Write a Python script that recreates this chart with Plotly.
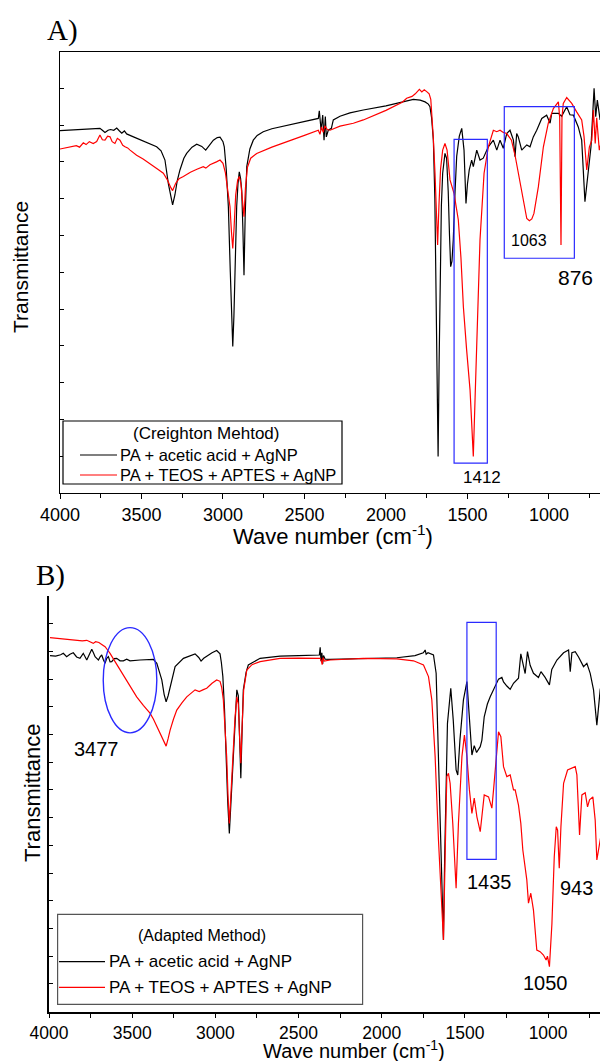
import plotly.graph_objects as go

# ---------------------------------------------------------
# Data (x = wave number cm-1, y = transmittance, arb. units)
# ---------------------------------------------------------

# A) Creighton method
a_black_wn = [4000, 3950, 3900, 3850, 3800, 3770, 3755, 3740, 3724, 3705, 3690, 3670, 3652, 3635, 3621,
              3605, 3591, 3560, 3500, 3450, 3407, 3380, 3356, 3335, 3320, 3309, 3295, 3280, 3264, 3240,
              3223, 3190, 3161, 3130, 3106, 3080, 3059, 3035, 3018, 3000, 2992, 2980, 2967, 2955, 2945,
              2940, 2933, 2925, 2916, 2908, 2900, 2892, 2885, 2878, 2871, 2864, 2854, 2835, 2814, 2790,
              2753, 2700, 2600, 2500, 2430, 2415, 2409, 2398, 2388, 2380, 2372, 2366, 2354, 2335, 2323,
              2300, 2282, 2221, 2139, 2000, 1900, 1832, 1790, 1760, 1740, 1730, 1720, 1709, 1700, 1693,
              1686, 1680, 1674, 1668, 1660, 1652, 1638, 1628, 1618, 1610, 1603, 1595, 1587, 1576, 1566,
              1550, 1535, 1521, 1509, 1500, 1489, 1474, 1464, 1443, 1423, 1403, 1392, 1372, 1341, 1320,
              1300, 1280, 1259, 1239, 1218, 1208, 1198, 1188, 1167, 1136, 1116, 1096, 1075, 1044, 1014,
              993, 983, 942, 922, 891, 871, 850, 820, 799, 779, 758, 742, 723, 713, 703, 686, 676, 656]
a_black_t = [9.85, 9.86, 9.87, 9.88, 9.89, 9.90, 9.91, 9.86, 9.80, 9.86, 9.88, 9.86, 9.92, 9.84, 9.78,
             9.84, 9.76, 9.70, 9.58, 9.48, 9.41, 9.30, 9.05, 8.40, 8.00, 7.83, 8.10, 8.50, 8.78, 9.10,
             9.23, 9.40, 9.48, 9.42, 9.32, 9.48, 9.59, 9.66, 9.67, 9.55, 9.41, 8.80, 7.78, 6.00, 4.60,
             3.98, 4.80, 6.50, 7.78, 8.40, 8.73, 8.55, 8.23, 7.20, 5.92, 7.50, 8.87, 9.35, 9.59, 9.72,
             9.82, 9.90, 10.00, 10.10, 10.16, 10.18, 10.39, 9.86, 10.27, 9.59, 10.23, 9.68, 9.86, 9.91, 10.14,
             10.21, 10.24, 10.33, 10.41, 10.52, 10.62, 10.70, 10.68, 10.63, 10.57, 10.50, 10.20, 9.59, 8.00, 5.98,
             3.50, 0.99, 3.50, 5.98, 7.80, 8.69, 9.23, 9.10, 8.20, 7.00, 6.15, 6.30, 6.88, 8.20, 9.15,
             9.70, 9.91, 9.32, 7.87, 8.40, 8.78, 9.05, 8.87, 9.32, 9.05, 9.10, 9.23, 9.41, 9.59, 9.32,
             9.59, 9.37, 9.77, 9.86, 9.59, 9.14, 9.77, 9.68, 9.32, 9.46, 9.41, 9.68, 9.86, 10.18, 10.27,
             10.05, 10.32, 10.32, 10.24, 10.50, 10.28, 10.27, 9.95, 9.59, 7.92, 8.87, 9.41, 11.00, 10.23, 10.68,
             10.14, 10.32, 9.95]

a_red_wn = [4000, 3960, 3918, 3900, 3880, 3857, 3840, 3820, 3796, 3775, 3755, 3740, 3724, 3708, 3693,
            3680, 3663, 3648, 3632, 3615, 3601, 3585, 3570, 3530, 3490, 3448, 3400, 3366, 3340, 3320,
            3309, 3290, 3270, 3243, 3200, 3160, 3121, 3105, 3080, 3040, 3018, 3000, 2985, 2970, 2957,
            2948, 2940, 2932, 2922, 2910, 2900, 2890, 2880, 2871, 2862, 2850, 2830, 2793, 2700, 2600,
            2500, 2415, 2405, 2395, 2385, 2375, 2360, 2343, 2282, 2200, 2139, 2000, 1900, 1873, 1840,
            1820, 1800, 1795, 1780, 1765, 1750, 1735, 1725, 1719, 1710, 1699, 1690, 1683, 1675, 1665,
            1652, 1638, 1625, 1607, 1582, 1556, 1540, 1525, 1505, 1484, 1474, 1464, 1453, 1443, 1423,
            1398, 1372, 1341, 1320, 1300, 1280, 1259, 1230, 1208, 1188, 1161, 1136, 1120, 1105, 1092,
            1065, 1034, 1004, 973, 942, 934, 926, 920, 912, 891, 860, 830, 799, 785, 768,
            752, 737, 727, 716, 707, 691, 676, 656]
a_red_t = [9.35, 9.38, 9.41, 9.44, 9.40, 9.52, 9.47, 9.55, 9.50, 9.55, 9.73, 9.60, 9.59, 9.70, 9.68,
           9.55, 9.50, 9.64, 9.59, 9.45, 9.41, 9.38, 9.32, 9.18, 9.08, 8.96, 8.80, 8.69, 8.50, 8.30,
           8.22, 8.42, 8.54, 8.60, 8.72, 8.80, 8.87, 8.83, 8.92, 9.00, 9.05, 8.96, 8.70, 8.20, 7.78,
           7.10, 6.65, 7.20, 8.10, 8.50, 8.60, 8.40, 7.90, 7.51, 8.30, 8.85, 9.10, 9.23, 9.40, 9.55,
           9.72, 9.86, 9.75, 9.95, 9.80, 9.98, 9.88, 9.86, 9.97, 10.05, 10.14, 10.40, 10.62, 10.73, 10.78,
           10.85, 10.95, 10.97, 10.90, 10.96, 10.91, 10.85, 10.70, 10.32, 9.70, 8.69, 7.50, 6.74, 7.80, 8.80,
           9.32, 9.50, 9.32, 8.51, 8.14, 7.42, 6.40, 5.06, 3.89, 2.80, 1.90, 0.99, 2.60, 4.16, 6.88,
           8.69, 9.41, 9.86, 9.82, 9.86, 9.80, 9.77, 9.59, 9.18, 8.69, 7.96, 7.46, 7.40, 7.45, 7.60,
           8.32, 9.41, 10.05, 10.45, 10.63, 10.20, 6.74, 10.20, 10.59, 10.75, 10.59, 10.36, 10.14, 9.70, 8.78,
           9.40, 9.59, 10.41, 9.50, 10.20, 9.32, 9.59, 9.68]

# B) Adapted method
b_black_wn = [3994, 3960, 3930, 3914, 3894, 3874, 3854, 3834, 3814, 3794, 3773, 3760, 3743, 3733, 3723,
              3713, 3703, 3693, 3683, 3673, 3663, 3653, 3643, 3633, 3623, 3608, 3593, 3573, 3553, 3533,
              3513, 3453, 3373, 3352, 3322, 3308, 3296, 3284, 3272, 3257, 3242, 3192, 3150, 3122, 3100,
              3086, 3070, 3052, 3020, 2992, 2972, 2964, 2955, 2945, 2936, 2926, 2916, 2905, 2895, 2882,
              2871, 2862, 2855, 2847, 2840, 2832, 2815, 2802, 2731, 2611, 2500, 2400, 2375, 2370, 2365,
              2360, 2355, 2350, 2340, 2310, 2200, 2110, 1909, 1800, 1769, 1750, 1739, 1733, 1722, 1710,
              1689, 1673, 1659, 1643, 1636, 1629, 1622, 1605, 1585, 1570, 1553, 1543, 1530, 1509, 1488,
              1475, 1458, 1444, 1430, 1408, 1398, 1384, 1365, 1348, 1330, 1312, 1298, 1278, 1268, 1248,
              1228, 1208, 1178, 1164, 1152, 1138, 1124, 1108, 1088, 1058, 1043, 1018, 992, 978, 947,
              907, 877, 867, 857, 837, 817, 787, 767, 747, 727, 707, 687, 667, 655, 647, 639]
b_black_t = [12.85, 12.83, 12.88, 12.93, 12.81, 12.90, 12.95, 12.80, 12.75, 12.93, 12.69, 12.85, 13.08, 12.95, 12.81,
             12.75, 12.69, 12.80, 12.87, 12.70, 12.57, 12.75, 12.81, 12.62, 12.63, 12.74, 12.75, 12.66, 12.66, 12.72,
             12.66, 12.69, 12.71, 12.57, 11.97, 11.45, 11.18, 11.40, 11.73, 12.15, 12.45, 12.75, 12.85, 12.91, 12.78,
             12.65, 12.75, 12.83, 12.95, 13.03, 12.91, 12.60, 12.09, 10.90, 9.20, 7.60, 6.43, 7.70, 9.20, 10.80,
             11.61, 11.40, 10.00, 8.42, 10.00, 11.61, 12.25, 12.51, 12.75, 12.83, 12.85, 12.86, 12.87, 13.15, 12.65,
             12.95, 12.55, 12.85, 12.72, 12.71, 12.73, 12.75, 12.77, 12.85, 12.91, 12.95, 13.05, 12.90, 12.95, 12.92,
             12.87, 12.21, 9.20, 5.59, 3.80, 2.58, 5.50, 10.40, 11.67, 10.50, 8.72, 8.54, 9.80, 11.25, 11.91,
             10.60, 9.26, 9.60, 9.35, 9.56, 9.80, 10.64, 11.10, 11.36, 11.60, 11.79, 12.00, 12.06, 11.90, 11.75,
             11.63, 11.85, 12.03, 12.91, 12.60, 12.20, 12.99, 12.50, 12.21, 12.06, 12.27, 12.06, 11.79, 12.35, 12.69,
             12.95, 13.05, 12.27, 12.95, 12.99, 12.80, 12.45, 12.57, 12.21, 11.61, 10.34, 11.61, 12.21, 13.08, 12.00,
             12.09]

b_red_wn = [3994, 3950, 3900, 3854, 3800, 3773, 3750, 3734, 3720, 3700, 3683, 3663, 3648, 3633, 3603,
            3573, 3543, 3513, 3473, 3433, 3393, 3372, 3352, 3322, 3296, 3284, 3272, 3252, 3232, 3200,
            3172, 3122, 3097, 3072, 3052, 3020, 2992, 2972, 2962, 2952, 2942, 2932, 2924, 2916, 2906,
            2895, 2882, 2871, 2862, 2855, 2847, 2840, 2830, 2811, 2780, 2731, 2611, 2500, 2370, 2363,
            2358, 2353, 2345, 2310, 2110, 1909, 1809, 1749, 1719, 1699, 1679, 1659, 1643, 1629, 1619,
            1609, 1599, 1589, 1573, 1553, 1539, 1518, 1503, 1488, 1473, 1458, 1444, 1428, 1408, 1398,
            1384, 1358, 1338, 1328, 1312, 1298, 1284, 1268, 1248, 1228, 1208, 1198, 1178, 1164, 1152,
            1128, 1118, 1104, 1088, 1068, 1048, 1028, 1012, 1004, 992, 977, 963, 951, 943, 933,
            923, 907, 883, 837, 827, 811, 797, 777, 763, 751, 731, 717, 707, 691, 677,
            663, 650, 639]
b_red_t = [13.50, 13.47, 13.44, 13.41, 13.38, 13.40, 13.33, 13.29, 13.35, 13.32, 13.25, 13.17, 13.05, 12.93, 12.63,
           12.33, 12.03, 11.73, 11.36, 11.05, 10.77, 10.55, 10.28, 9.92, 9.58, 9.85, 10.16, 10.55, 10.88, 11.15,
           11.36, 11.61, 11.55, 11.62, 11.67, 11.85, 11.97, 11.92, 11.70, 11.25, 10.30, 9.20, 7.80, 6.79, 7.90,
           9.20, 10.60, 11.36, 11.10, 10.00, 8.96, 10.20, 11.60, 12.33, 12.52, 12.63, 12.75, 12.76, 12.75, 12.66,
           12.52, 12.78, 12.65, 12.69, 12.75, 12.73, 12.66, 12.51, 12.09, 11.25, 9.20, 6.19, 4.39, 2.58, 5.59,
           8.48, 8.60, 8.24, 6.79, 4.45, 6.79, 9.20, 9.98, 9.20, 8.00, 7.15, 7.70, 7.03, 6.49, 7.03,
           7.82, 7.75, 7.34, 8.00, 9.20, 10.10, 9.92, 8.84, 8.48, 8.54, 8.00, 8.00, 7.45, 6.79, 5.83,
           4.75, 3.91, 4.27, 3.66, 2.22, 2.16, 2.04, 1.86, 2.00, 1.62, 3.18, 5.59, 6.67, 6.55, 5.17,
           6.67, 8.24, 8.72, 8.84, 8.54, 6.37, 7.82, 7.90, 7.39, 7.64, 7.75, 6.91, 5.47, 6.07, 6.55,
           6.91, 6.95, 6.91]

series_names = ["PA + acetic acid + AgNP", "PA + TEOS + APTES + AgNP"]
series_colors = ["black", "red"]
legend_titles = ["(Creighton Mehtod)", "(Adapted Method)"]

# tick labels of the wave number axes
x_tick_vals = [4000, 3500, 3000, 2500, 2000, 1500, 1000]
x_tick_text = ["4000", "3500", "3000", "2500", "2000", "1500", "1000"]
x_minor_vals = [3750, 3250, 2750, 2250, 1750, 1250, 750]

# band labels: (wave number, transmittance, text, font size)
a_labels = [(1412, 0.43, "1412", 17), (1124, 6.85, "1063", 16), (840, 5.86, "876", 21)]
b_labels = [(3713, 9.47, "3477", 20), (1352, 4.69, "1435", 20), (827, 4.47, "943", 20), (1018, 1.02, "1050", 20)]

x_title = "Wave number (cm<sup>-1</sup>)"
y_title = "Transmittance"

###########################################################

# page body has an 8px margin, so the figure is 8px smaller than the window
W, H = 600, 1053
OFF = 8
FONT = "Liberation Sans, Arial, sans-serif"
SERIF = "Liberation Serif, Times New Roman, serif"
BLUE = "#2a2aff"


def px(x):  # window pixel -> paper x
    return (x - OFF) / W


def py(y):  # window pixel -> paper y
    return 1 - (y - OFF) / H


def paper_text(x, y, text, size, family=FONT, angle=0, xanchor="center"):
    fig.add_annotation(x=px(x), y=py(y), xref="paper", yref="paper", text=text, showarrow=False,
                       xanchor=xanchor, yanchor="middle", textangle=angle, borderpad=0,
                       font=dict(family=family, size=size, color="black"))


fig = go.Figure()

# top panel spectra
fig.add_trace(go.Scatter(x=a_black_wn, y=a_black_t, mode="lines", name=series_names[0],
                         line=dict(color=series_colors[0], width=1.2), xaxis="x", yaxis="y"))
fig.add_trace(go.Scatter(x=a_red_wn, y=a_red_t, mode="lines", name=series_names[1],
                         line=dict(color=series_colors[1], width=1.2), xaxis="x", yaxis="y"))
# bottom panel spectra
fig.add_trace(go.Scatter(x=b_black_wn, y=b_black_t, mode="lines", name=series_names[0],
                         line=dict(color=series_colors[0], width=1.2), xaxis="x2", yaxis="y2"))
fig.add_trace(go.Scatter(x=b_red_wn, y=b_red_t, mode="lines", name=series_names[1],
                         line=dict(color=series_colors[1], width=1.2), xaxis="x2", yaxis="y2"))

# highlight boxes / ellipse
fig.add_shape(type="rect", xref="x", yref="y", x0=1582, x1=1378, y0=0.81, y1=9.61,
              line=dict(color=BLUE, width=1.2))
fig.add_shape(type="rect", xref="x", yref="y", x0=1274, x1=844, y0=6.38, y1=10.5,
              line=dict(color=BLUE, width=1.2))
fig.add_shape(type="circle", xref="x2", yref="y2", x0=3674, x1=3352, y0=10.06, y1=13.86,
              line=dict(color=BLUE, width=1.4))
fig.add_shape(type="rect", xref="x2", yref="y2", x0=1488, x1=1312, y0=5.49, y1=14.05,
              line=dict(color=BLUE, width=1.2))

for wn, t, txt, sz in a_labels:
    fig.add_annotation(x=wn, y=t, xref="x", yref="y", text=txt, showarrow=False,
                       font=dict(family=FONT, size=sz, color="black"))
for wn, t, txt, sz in b_labels:
    fig.add_annotation(x=wn, y=t, xref="x2", yref="y2", text=txt, showarrow=False,
                       font=dict(family=FONT, size=sz, color="black"))

# panel letters
paper_text(63, 30, "A)", 29, family=SERIF)
paper_text(50, 575, "B)", 29, family=SERIF)

# axis titles (placed as in the original figure)
paper_text(333, 535, x_title, 22)
paper_text(354, 1049.5, x_title, 20)
paper_text(21, 267, y_title, 21, angle=-90)
paper_text(32, 793, y_title, 22, angle=-90)


# legend boxes (drawn like the Origin legends)
def draw_legend(box, title, title_xy, title_size, line_x, rows_y, text_x, text_size, border):
    x0, y0, x1, y1 = box
    fig.add_shape(type="rect", xref="paper", yref="paper", x0=px(x0), x1=px(x1), y0=py(y1), y1=py(y0),
                  line=dict(color=border, width=1.2), fillcolor="white")
    paper_text(title_xy[0], title_xy[1], title, title_size)
    for name, col, ry in zip(series_names, series_colors, rows_y):
        fig.add_shape(type="line", xref="paper", yref="paper", x0=px(line_x[0]), x1=px(line_x[1]),
                      y0=py(ry), y1=py(ry), line=dict(color=col, width=1.2))
        paper_text(text_x, ry, name, text_size, xanchor="left")


draw_legend((63, 421, 342, 484), legend_titles[0], (206, 434), 17, (80, 117), (455, 475), 119, 16.5, "black")
draw_legend((57.6, 914.3, 362.6, 1004.3), legend_titles[1], (202, 935), 16, (59, 105), (961.7, 987.3), 108, 17,
            "#555555")

xaxis_common = dict(
    showgrid=False, zeroline=False, showline=True, linecolor="black", automargin=False,
    ticks="outside", ticklen=5, tickcolor="black",
    tickmode="array", tickvals=x_tick_vals, ticktext=x_tick_text,
    minor=dict(tickmode="array", tickvals=x_minor_vals, ticks="outside", ticklen=4, tickcolor="black"),
    tickfont=dict(family=FONT, size=18, color="black"),
)
yaxis_common = dict(
    showgrid=False, zeroline=False, showline=True, linecolor="black", automargin=False,
    ticks="inside", ticklen=4, tickcolor="black", dtick=1, tick0=0, showticklabels=False,
)

fig.update_layout(
    width=W, height=H,
    margin=dict(l=0, r=0, t=0, b=0, autoexpand=False),
    paper_bgcolor="white", plot_bgcolor="white",
    showlegend=False,
    xaxis=dict(xaxis_common, domain=[px(60), px(605)], range=[4000, 656], anchor="y",
               mirror=True, linewidth=1.2),
    yaxis=dict(yaxis_common, domain=[py(493), py(51.5)], range=[0, 12], anchor="x",
               mirror=True, linewidth=1.2),
    xaxis2=dict(xaxis_common, domain=[px(49), 1.0], range=[4000, 640], anchor="y2", linewidth=2,
                ticklen=4, tickfont=dict(family=FONT, size=17.5, color="black")),
    yaxis2=dict(yaxis_common, domain=[py(1011.5), py(596)], range=[0, 15], anchor="x2", linewidth=2),
    xaxis3=dict(overlaying="x2", matches="x2", side="top", anchor="y2", showgrid=False, zeroline=False,
                showline=True, linecolor="black", linewidth=2, ticks="inside", ticklen=4, tickcolor="black",
                tickmode="array", tickvals=sorted(x_tick_vals + x_minor_vals), showticklabels=False,
                automargin=False),
)

fig.write_html("out.html")
